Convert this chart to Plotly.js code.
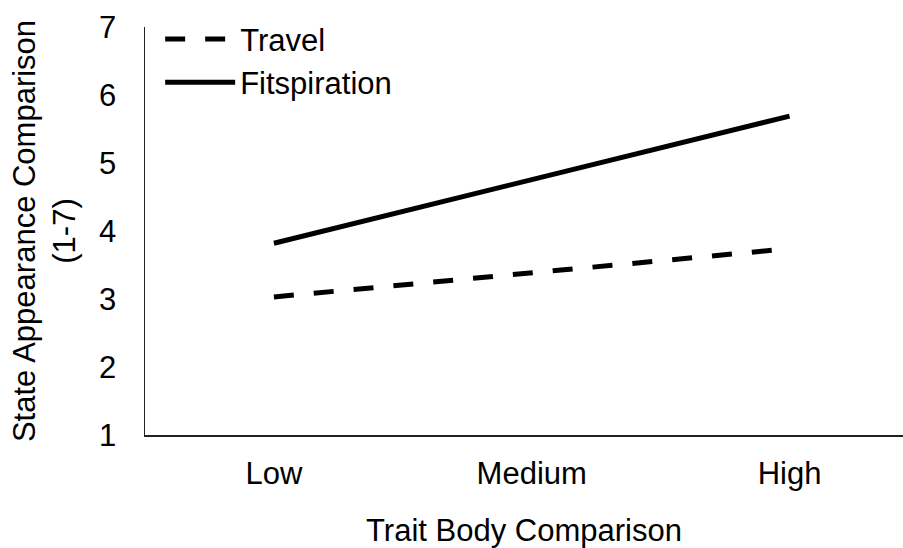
<!DOCTYPE html>
<html>
<head>
<meta charset="utf-8">
<script src="https://cdn.plot.ly/plotly-3.0.1.min.js"></script>
<style>
html,body{margin:0;padding:0;background:#fff;}
#chart{width:903px;height:548px;}
</style>
</head>
<body>
<div id="chart"></div>
<script>
const categories = ["Low", "Medium", "High"];
const travel = [3.03, 3.39, 3.74];
const fitspiration = [3.82, 4.76, 5.69];
const yTicks = [1, 2, 3, 4, 5, 6, 7];
const seriesNames = ["Travel", "Fitspiration"];

const FS = 31;
const font = {family: "Liberation Sans, Arial, sans-serif", color: "#000", size: FS};

const traces = [
  {x: categories, y: travel, name: seriesNames[0], mode: "lines",
   line: {color: "#000", width: 5, dash: "20px,20px"}},
  {x: categories, y: fitspiration, name: seriesNames[1], mode: "lines",
   line: {color: "#000", width: 5}}
];

const layout = {
  width: 903, height: 548,
  margin: {l: 145, r: 0, t: 27, b: 113},
  paper_bgcolor: "#fff", plot_bgcolor: "#fff",
  font: font,
  showlegend: true,
  legend: {x: 0.02, y: 1.036, xanchor: "left", yanchor: "top", bgcolor: "rgba(0,0,0,0)",
           itemwidth: 70,
           font: {family: font.family, size: FS, color: "#000"}, traceorder: "normal"},
  xaxis: {
    type: "category", range: [-0.5, 2.44],
    showline: true, linecolor: "#222", linewidth: 1.5,
    showgrid: false, zeroline: false, ticks: "", ticklabelstandoff: 10,
    tickfont: {size: FS},
    title: {text: "Trait Body Comparison", font: {size: FS}, standoff: 35}
  },
  yaxis: {
    range: [1, 7], tickvals: yTicks, ticktext: yTicks.map(String),
    showline: true, linecolor: "#222", linewidth: 1.5,
    showgrid: false, zeroline: false, ticks: "", ticklabelstandoff: 21,
    tickfont: {size: FS},
    title: {text: "State Appearance Comparison<br>(1-7)", font: {size: FS}, standoff: 14}
  }
};

Plotly.newPlot("chart", traces, layout, {displayModeBar: false, staticPlot: true});
</script>
</body>
</html>
